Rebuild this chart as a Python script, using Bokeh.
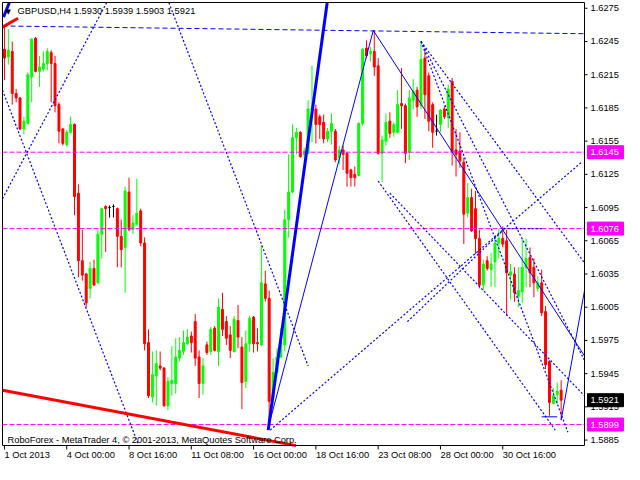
from bokeh.plotting import figure
from bokeh.models import Range1d, Label, ColumnDataSource
from bokeh.core.properties import value
from bokeh.embed import file_html
from bokeh.resources import INLINE

FONT = "Liberation Sans"
FS = "9.3px"

symbol_text = "GBPUSD,H4  1.5930 1.5939 1.5903 1.5921"
footer_text = "RoboForex - MetaTrader 4, \u00a9 2001-2013, MetaQuotes Software Corp."

# H4 bars, GBPUSD, from 1 Oct 2013 08:00
opens = [1.6238, 1.6231, 1.6236, 1.6198, 1.6194, 1.6166, 1.6171, 1.6213, 1.6248, 1.6218,
         1.6220, 1.6225, 1.6235, 1.6225, 1.6188, 1.6166, 1.6152, 1.6163, 1.6170, 1.6108,
         1.6047, 1.6035, 1.6022, 1.6040, 1.6027, 1.6071, 1.6096, 1.6095, 1.6096, 1.6094,
         1.6069, 1.6059, 1.6109, 1.6075, 1.6080, 1.6092, 1.6063, 1.5973, 1.5924, 1.5943,
         1.5952, 1.5950, 1.5916, 1.5936, 1.5936, 1.5959, 1.5965, 1.5972, 1.5979, 1.5992,
         1.5960, 1.5936, 1.5971, 1.5965, 1.5986, 1.5965, 1.6003, 1.5992, 1.5980, 1.5965,
         1.5993, 1.5969, 1.5938, 1.5972, 1.5996, 1.5973, 1.5971, 1.6026, 1.6013, 1.5923,
         1.5946, 1.5960, 1.5971, 1.6084, 1.6109, 1.6158, 1.6163, 1.6143, 1.6144, 1.6183,
         1.6184, 1.6177, 1.6172, 1.6157, 1.6164, 1.6164, 1.6140, 1.6147, 1.6144, 1.6129,
         1.6125, 1.6124, 1.6171, 1.6239, 1.6234, 1.6236, 1.6223, 1.6144, 1.6155, 1.6173,
         1.6163, 1.6163, 1.6189, 1.6187, 1.6145, 1.6192, 1.6201, 1.6187, 1.6230, 1.6214,
         1.6188, 1.6164, 1.6170, 1.6184, 1.6176, 1.6209, 1.6147, 1.6146, 1.6136, 1.6090,
         1.6104, 1.6094, 1.6067, 1.6025, 1.6047, 1.6039, 1.6046, 1.6063, 1.6067, 1.6065,
         1.6034, 1.6035, 1.6015, 1.6019, 1.6041, 1.6050, 1.6041, 1.6022, 1.6027, 1.6001,
         1.5956, 1.5918, 1.5926, 1.5930]
highs = [1.6258, 1.6256, 1.6245, 1.6202, 1.6195, 1.6177, 1.6217, 1.6248, 1.6249, 1.6232,
         1.6236, 1.6239, 1.6237, 1.6232, 1.6190, 1.6167, 1.6165, 1.6177, 1.6171, 1.6116,
         1.6075, 1.6036, 1.6046, 1.6048, 1.6075, 1.6095, 1.6097, 1.6097, 1.6098, 1.6095,
         1.6084, 1.6114, 1.6122, 1.6088, 1.6121, 1.6094, 1.6068, 1.5985, 1.5965, 1.5966,
         1.5965, 1.5951, 1.5942, 1.5970, 1.5977, 1.5978, 1.5984, 1.5985, 1.5983, 1.5999,
         1.5966, 1.5959, 1.5974, 1.5987, 1.5988, 1.6013, 1.6018, 1.5997, 1.5988, 1.5997,
         1.6007, 1.5978, 1.5984, 1.5997, 1.5997, 1.5986, 1.6061, 1.6038, 1.6020, 1.5959,
         1.5968, 1.5986, 1.6093, 1.6143, 1.6170, 1.6167, 1.6164, 1.6149, 1.6192, 1.6223,
         1.6188, 1.6179, 1.6179, 1.6167, 1.6180, 1.6166, 1.6151, 1.6151, 1.6145, 1.6130,
         1.6132, 1.6172, 1.6239, 1.6246, 1.6240, 1.6255, 1.6230, 1.6160, 1.6180, 1.6181,
         1.6172, 1.6201, 1.6221, 1.6189, 1.6201, 1.6211, 1.6204, 1.6245, 1.6238, 1.6217,
         1.6190, 1.6179, 1.6184, 1.6187, 1.6206, 1.6212, 1.6166, 1.6163, 1.6140, 1.6117,
         1.6112, 1.6110, 1.6075, 1.6048, 1.6051, 1.6054, 1.6070, 1.6076, 1.6078, 1.6075,
         1.6044, 1.6041, 1.6041, 1.6067, 1.6067, 1.6059, 1.6049, 1.6033, 1.6039, 1.6006,
         1.5957, 1.5932, 1.5937, 1.5939]
lows = [1.6210, 1.6224, 1.6188, 1.6190, 1.6165, 1.6161, 1.6170, 1.6190, 1.6217, 1.6204,
        1.6218, 1.6219, 1.6190, 1.6181, 1.6153, 1.6151, 1.6150, 1.6162, 1.6088, 1.6032,
        1.6029, 1.6005, 1.6013, 1.6024, 1.6026, 1.6049, 1.6055, 1.6086, 1.6086, 1.6041,
        1.6041, 1.6018, 1.6074, 1.6071, 1.6079, 1.6060, 1.5966, 1.5923, 1.5919, 1.5916,
        1.5948, 1.5915, 1.5912, 1.5925, 1.5927, 1.5956, 1.5962, 1.5971, 1.5964, 1.5952,
        1.5923, 1.5926, 1.5962, 1.5962, 1.5965, 1.5952, 1.5979, 1.5971, 1.5959, 1.5964,
        1.5968, 1.5913, 1.5932, 1.5965, 1.5964, 1.5965, 1.5970, 1.6010, 1.5896, 1.5918,
        1.5945, 1.5959, 1.5965, 1.6068, 1.6108, 1.6143, 1.6140, 1.6140, 1.6143, 1.6154,
        1.6153, 1.6157, 1.6153, 1.6154, 1.6152, 1.6136, 1.6134, 1.6129, 1.6114, 1.6114,
        1.6114, 1.6123, 1.6169, 1.6230, 1.6227, 1.6214, 1.6143, 1.6118, 1.6151, 1.6158,
        1.6159, 1.6162, 1.6166, 1.6135, 1.6138, 1.6184, 1.6177, 1.6184, 1.6175, 1.6164,
        1.6149, 1.6160, 1.6163, 1.6175, 1.6167, 1.6133, 1.6123, 1.6131, 1.6062, 1.6086,
        1.6073, 1.6053, 1.6022, 1.6020, 1.6038, 1.6023, 1.6023, 1.6049, 1.6059, 1.5997,
        1.6012, 1.6010, 1.6005, 1.6009, 1.6023, 1.6023, 1.6014, 1.6019, 1.5997, 1.5949,
        1.5907, 1.5918, 1.5918, 1.5903]
closes = [1.6230, 1.6237, 1.6198, 1.6194, 1.6166, 1.6173, 1.6215, 1.6247, 1.6218, 1.6222,
          1.6225, 1.6236, 1.6225, 1.6187, 1.6164, 1.6153, 1.6163, 1.6170, 1.6105, 1.6047,
          1.6034, 1.6009, 1.6040, 1.6025, 1.6071, 1.6094, 1.6094, 1.6095, 1.6096, 1.6069,
          1.6057, 1.6110, 1.6075, 1.6081, 1.6090, 1.6063, 1.5972, 1.5925, 1.5944, 1.5954,
          1.5950, 1.5916, 1.5938, 1.5939, 1.5960, 1.5966, 1.5973, 1.5978, 1.5973, 1.5959,
          1.5936, 1.5952, 1.5964, 1.5985, 1.5966, 1.6005, 1.5985, 1.5977, 1.5966, 1.5994,
          1.5978, 1.5937, 1.5972, 1.5995, 1.5972, 1.5972, 1.6027, 1.6013, 1.5920, 1.5946,
          1.5960, 1.5974, 1.6084, 1.6109, 1.6158, 1.6163, 1.6141, 1.6146, 1.6184, 1.6185,
          1.6170, 1.6170, 1.6157, 1.6164, 1.6171, 1.6138, 1.6147, 1.6143, 1.6126, 1.6122,
          1.6122, 1.6171, 1.6238, 1.6232, 1.6236, 1.6222, 1.6144, 1.6156, 1.6172, 1.6162,
          1.6170, 1.6188, 1.6187, 1.6144, 1.6194, 1.6200, 1.6186, 1.6229, 1.6197, 1.6173,
          1.6163, 1.6164, 1.6183, 1.6177, 1.6202, 1.6145, 1.6143, 1.6137, 1.6089, 1.6104,
          1.6074, 1.6067, 1.6025, 1.6044, 1.6040, 1.6044, 1.6063, 1.6067, 1.6062, 1.6036,
          1.6037, 1.6018, 1.6020, 1.6041, 1.6049, 1.6036, 1.6027, 1.6027, 1.6000, 1.5953,
          1.5919, 1.5925, 1.5929, 1.5921]

time_ticks = [0, 16, 32, 48, 64, 80, 96, 112, 128]
time_labels = ["1 Oct 2013", "4 Oct 00:00", "8 Oct 16:00", "11 Oct 08:00", "16 Oct 00:00",
               "18 Oct 16:00", "23 Oct 08:00", "28 Oct 00:00", "30 Oct 16:00"]
price_ticks = [1.5885, 1.5915, 1.5945, 1.5975, 1.6005, 1.6035, 1.6065, 1.6095,
               1.6125, 1.6155, 1.6185, 1.6215, 1.6245, 1.6275]
levels = [1.6145, 1.6076, 1.5899]
last_price = 1.5921

# visible window of the chart (bars, price)
X_LEFT, X_RIGHT = -0.5, 149.0
Y_BOTTOM, Y_TOP = 1.58801, 1.62802

# chart objects: (bar0, price0, bar1, price1)
dotted_lines = [(-0.5, 1.6201, 34.5, 1.5880), (-0.5, 1.6103, 26.25, 1.6280),
                (42.25, 1.6280, 78.0, 1.5952), (107.0, 1.6245, 149.0, 1.6045),
                (107.0, 1.6245, 144.75, 1.5892), (107.0, 1.6245, 149.0, 1.5957),
                (96.0, 1.6119, 141.5, 1.5894), (99.0, 1.6108, 149.0, 1.5925),
                (68.25, 1.5894, 148.25, 1.6136), (103.5, 1.5992, 128.25, 1.6075),
                (128.25, 1.6076, 138.25, 1.6076)]
dashed_lines = [(-0.5, 1.6259, 149.0, 1.6252)]
thin_lines = [(67.75, 1.5896, 94.75, 1.6255), (94.75, 1.6255, 149.0, 1.5961),
              (143.0, 1.5903, 149.0, 1.6020), (138.0, 1.5906, 142.0, 1.5906)]
thick_blue_lines = [(67.75, 1.5894, 82.9, 1.6280), (-0.25, 1.6267, 1.25, 1.6280)]
thick_red_lines = [(-0.5, 1.5930, 74.9, 1.5880), (-0.5, 1.6258, 3.5, 1.6266)]

# page geometry (px)
W, H = 624, 464
ML, MR, MT, MB = 2, 40, 2, 19
kx = (W - ML - MR) / (X_RIGHT - X_LEFT)     # px per bar
ky = (H - MT - MB) / (Y_TOP - Y_BOTTOM)     # px per price unit
BOX_W, BOX_H, BOX_GAP = 36, 13, 3

p = figure(width=W, height=H, output_backend="svg", toolbar_location=None,
           x_range=Range1d(X_LEFT - ML / kx, X_RIGHT + MR / kx),
           y_range=Range1d(Y_BOTTOM - MB / ky, Y_TOP + MT / ky),
           x_axis_location=None, y_axis_location=None,
           min_border=0)
p.grid.visible = False
p.outline_line_color = None
p.background_fill_color = "white"
p.border_fill_color = "white"

# candles
n = len(opens)
colors = []
for o, c in zip(opens, closes):
    colors.append("#00ff00" if c > o else ("#ff0000" if c < o else "black"))
src = ColumnDataSource(dict(
    x=list(range(n)), o=opens, h=highs, l=lows, c=closes,
    top=[max(a, b) for a, b in zip(opens, closes)],
    bottom=[min(a, b) for a, b in zip(opens, closes)],
    color=colors))
p.segment(x0="x", y0="l", x1="x", y1="h", line_color="color", line_width=1, source=src)
p.vbar(x="x", top="top", bottom="bottom", width=0.5, fill_color="color",
       line_color="color", line_width=1, source=src)


def seg(lines, **kw):
    p.segment(x0=[a[0] for a in lines], y0=[a[1] for a in lines],
              x1=[a[2] for a in lines], y1=[a[3] for a in lines], **kw)


# level lines
p.segment(x0=[X_LEFT] * len(levels), y0=levels, x1=[X_RIGHT] * len(levels), y1=levels,
          line_color="#ff00ff", line_width=1, line_dash="5 2")

seg(dotted_lines, line_color="#0000ff", line_width=1.2, line_dash="2 2")
seg(dashed_lines, line_color="#0000ff", line_width=1, line_dash="5 3")
seg(thin_lines, line_color="#0000ff", line_width=1)
seg(thick_blue_lines, line_color="#0000ff", line_width=3)
seg(thick_red_lines, line_color="#ff0000", line_width=3)

# chart frame
p.quad(left=[X_LEFT], right=[X_RIGHT], bottom=[Y_BOTTOM], top=[Y_TOP],
       fill_color=None, line_color="black", line_width=1)

# price scale (right)
p.segment(x0=[X_RIGHT] * len(price_ticks), y0=price_ticks,
          x1=[X_RIGHT + 3 / kx] * len(price_ticks), y1=price_ticks,
          line_color="black", line_width=1)
p.text(x=[X_RIGHT] * len(price_ticks), y=price_ticks,
       text=[f"{t:.4f}" for t in price_ticks], x_offset=6,
       text_align="left", text_baseline="middle", text_font=value(FONT),
       text_font_size=value(FS), text_color="black")

# time scale (bottom)
p.segment(x0=time_ticks, y0=[Y_BOTTOM] * len(time_ticks),
          x1=time_ticks, y1=[Y_BOTTOM - 4 / ky] * len(time_ticks),
          line_color="black", line_width=1)
p.text(x=time_ticks, y=[Y_BOTTOM] * len(time_ticks), text=time_labels,
       x_offset=0, y_offset=4, text_align="left", text_baseline="top",
       text_font=value(FONT), text_font_size=value(FS), text_color="black")

# price boxes on the scale
box_prices = levels + [last_price]
box_colors = ["#ff00ff"] * len(levels) + ["black"]
box_x = X_RIGHT + (BOX_GAP + BOX_W / 2) / kx
p.rect(x=[box_x] * len(box_prices), y=box_prices, width=BOX_W, height=BOX_H,
       width_units="screen", height_units="screen",
       fill_color=box_colors, line_color=box_colors)
p.text(x=[X_RIGHT] * len(box_prices), y=box_prices,
       text=[f"{v:.4f}" for v in box_prices], x_offset=6,
       text_align="left", text_baseline="middle", text_font=value(FONT),
       text_font_size=value(FS), text_color="white")

# header and footer
p.add_layout(Label(x=5, y=H - 11, x_units="screen", y_units="screen", text="\u25bc",
                   text_align="left", text_baseline="middle", text_font="DejaVu Sans",
                   text_font_size="7px", text_color="black"))
p.add_layout(Label(x=17, y=H - 10, x_units="screen", y_units="screen", text=symbol_text,
                   text_align="left", text_baseline="middle", text_font=FONT,
                   text_font_size=FS, text_color="black"))
p.add_layout(Label(x=7, y=25, x_units="screen", y_units="screen", text=footer_text,
                   text_align="left", text_baseline="middle", text_font=FONT,
                   text_font_size=FS, text_color="black"))

open("out.html", "w").write(file_html(p, INLINE))
